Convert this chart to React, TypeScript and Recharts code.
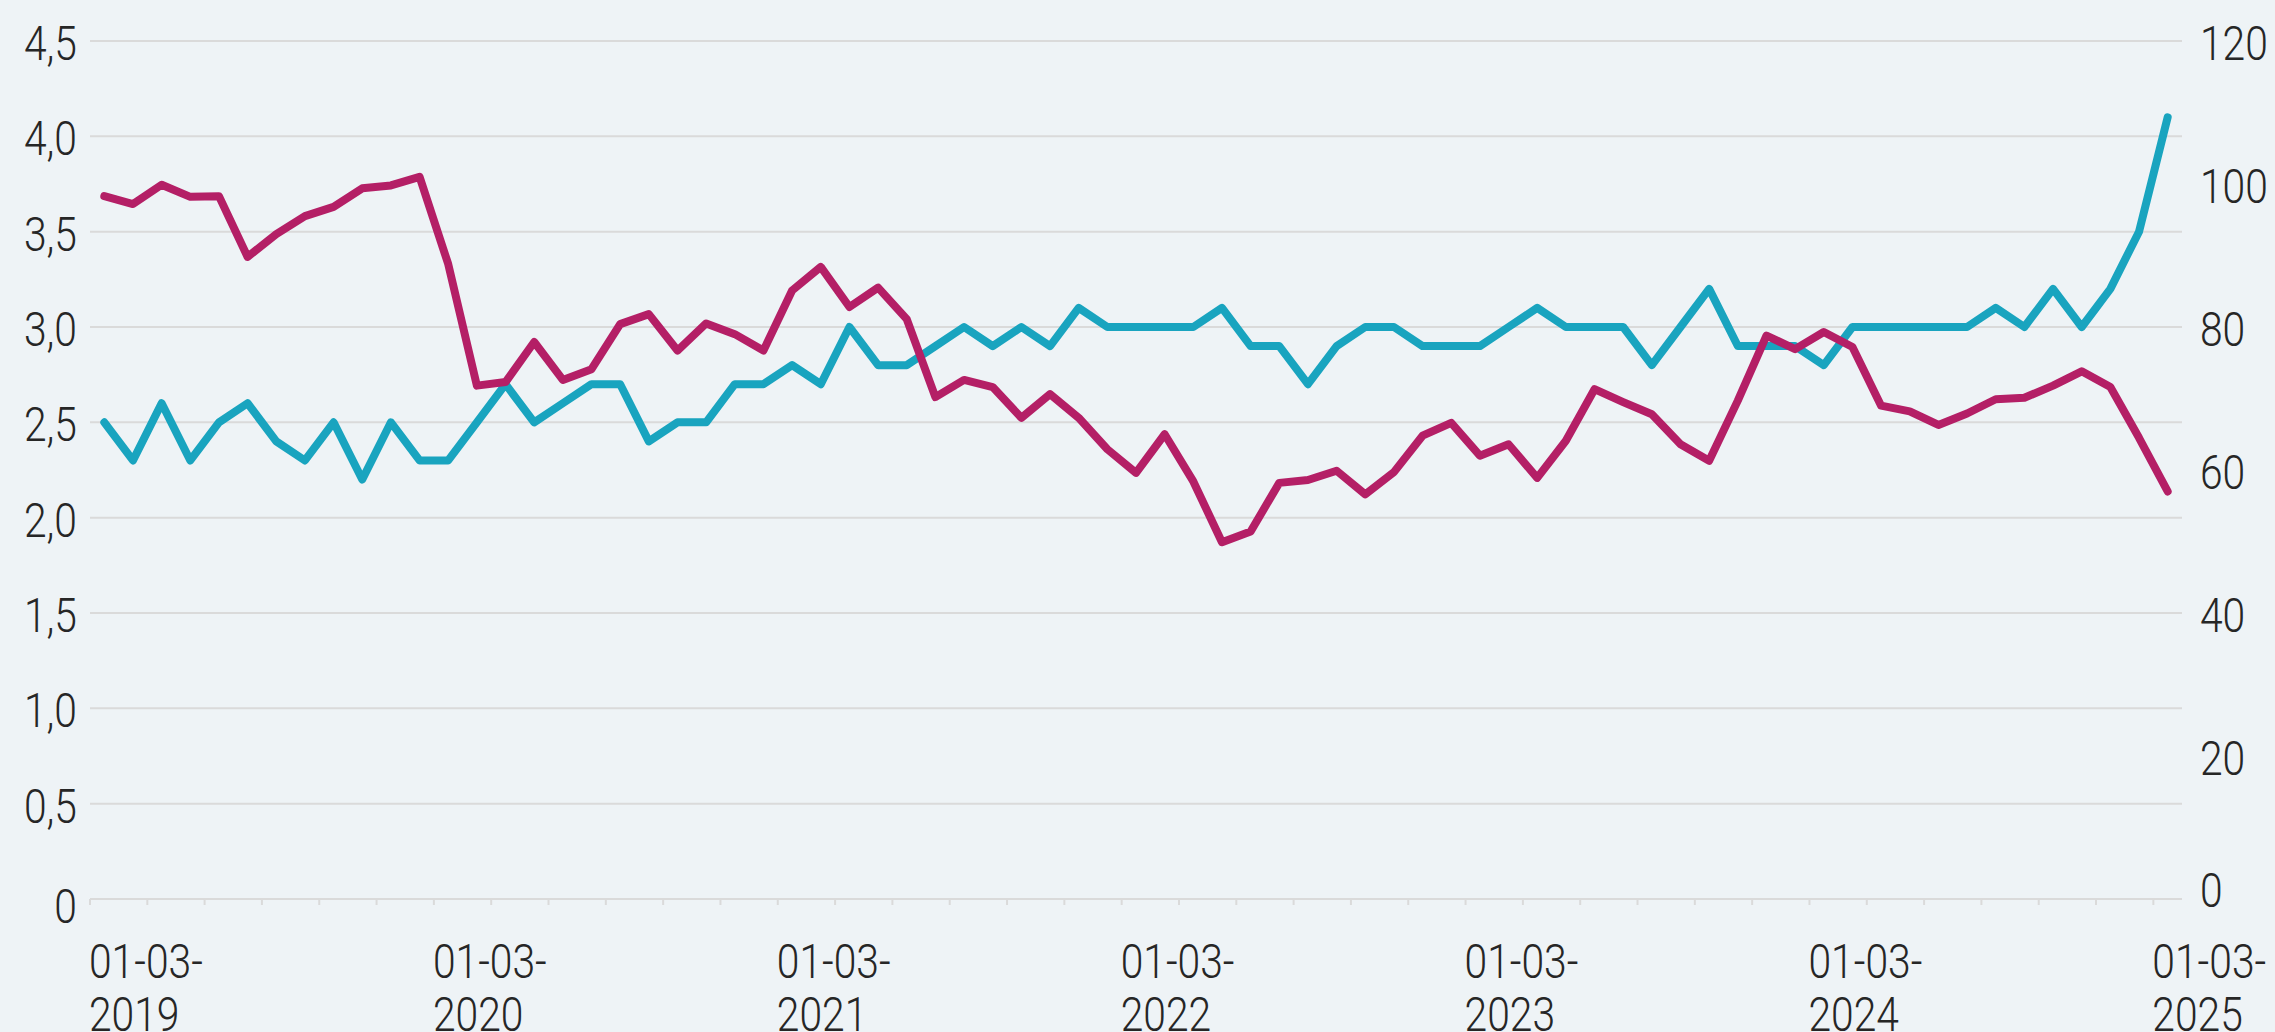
import React from 'react';
import { LineChart, Line, XAxis, YAxis, CartesianGrid } from 'recharts';

const months = [
  '2019-03', '2019-04', '2019-05', '2019-06', '2019-07', '2019-08', '2019-09', '2019-10', '2019-11', '2019-12',
  '2020-01', '2020-02', '2020-03', '2020-04', '2020-05', '2020-06', '2020-07', '2020-08', '2020-09', '2020-10', '2020-11', '2020-12',
  '2021-01', '2021-02', '2021-03', '2021-04', '2021-05', '2021-06', '2021-07', '2021-08', '2021-09', '2021-10', '2021-11', '2021-12',
  '2022-01', '2022-02', '2022-03', '2022-04', '2022-05', '2022-06', '2022-07', '2022-08', '2022-09', '2022-10', '2022-11', '2022-12',
  '2023-01', '2023-02', '2023-03', '2023-04', '2023-05', '2023-06', '2023-07', '2023-08', '2023-09', '2023-10', '2023-11', '2023-12',
  '2024-01', '2024-02', '2024-03', '2024-04', '2024-05', '2024-06', '2024-07', '2024-08', '2024-09', '2024-10', '2024-11', '2024-12',
  '2025-01', '2025-02', '2025-03',
];

// left axis series (0 – 4,5)
const tealValues = [
  2.5, 2.3, 2.6, 2.3, 2.5, 2.6, 2.4, 2.3, 2.5, 2.2,
  2.5, 2.3, 2.3, 2.5, 2.7, 2.5, 2.6, 2.7, 2.7, 2.4, 2.5, 2.5,
  2.7, 2.7, 2.8, 2.7, 3.0, 2.8, 2.8, 2.9, 3.0, 2.9, 3.0, 2.9,
  3.1, 3.0, 3.0, 3.0, 3.0, 3.1, 2.9, 2.9, 2.7, 2.9, 3.0, 3.0,
  2.9, 2.9, 2.9, 3.0, 3.1, 3.0, 3.0, 3.0, 2.8, 3.0, 3.2, 2.9,
  2.9, 2.9, 2.8, 3.0, 3.0, 3.0, 3.0, 3.0, 3.1, 3.0, 3.2, 3.0,
  3.2, 3.5, 4.1,
];

// right axis series (0 – 120)
const magentaValues = [
  98.3, 97.2, 99.9, 98.2, 98.3, 89.8, 93.0, 95.5, 96.8, 99.4,
  99.8, 101.0, 88.8, 71.8, 72.3, 77.9, 72.6, 74.1, 80.4, 81.8, 76.7, 80.5,
  79.0, 76.7, 85.1, 88.4, 82.8, 85.5, 81.1, 70.2, 72.6, 71.6, 67.3, 70.6,
  67.3, 62.9, 59.6, 65.0, 58.4, 49.9, 51.4, 58.2, 58.6, 59.9, 56.6, 59.7,
  64.8, 66.6, 62.0, 63.6, 58.9, 64.1, 71.3, 69.5, 67.8, 63.6, 61.3, 69.7,
  78.8, 76.9, 79.3, 77.2, 69.0, 68.2, 66.3, 67.9, 69.9, 70.1, 71.8, 73.8,
  71.6, 64.5, 57.0,
];

const xTicks = [0, 2, 4, 6, 8, 10, 12, 14, 16, 18, 20, 22, 24, 26, 28, 30, 32, 34, 36,
  38, 40, 42, 44, 46, 48, 50, 52, 54, 56, 58, 60, 62, 64, 66, 68, 70, 72];
const xTickLabels = ['01-03-2019', '01-03-2020', '01-03-2021', '01-03-2022', '01-03-2023', '01-03-2024', '01-03-2025'];
const leftTicks = [0, 0.5, 1, 1.5, 2, 2.5, 3, 3.5, 4, 4.5];
const rightTicks = [0, 20, 40, 60, 80, 100, 120];

const data = months.map((m, i) => ({ month: m, x: i + 0.5, teal: tealValues[i], magenta: magentaValues[i] }));

const FONT = "Roboto, 'Noto Sans', sans-serif";
const TEXT = '#262626';
const GRID = '#dadada';
const BG = '#eef3f6';
const TEAL = '#19a4bf';
const MAGENTA = '#b41f66';
const SX = 0.85;

const LeftTick = (props: any) => {
  const { x, y, payload } = props;
  const v = payload.value as number;
  const label = v === 0 ? '0' : v.toFixed(1).replace('.', ',');
  const dy = v === 0 ? 24 : 19;
  return (
    <text transform={`translate(${x},${y + dy}) scale(${SX},1)`} textAnchor="end" fontSize={48} fontWeight={300}
      fill={TEXT} fontFamily={FONT}>{label}</text>
  );
};

const RightTick = (props: any) => {
  const { x, y, payload } = props;
  const v = payload.value as number;
  const dy = v === 0 ? 8 : 19;
  return (
    <text transform={`translate(${x},${y + dy}) scale(${SX},1)`} textAnchor="start" fontSize={48} fontWeight={300}
      fill={TEXT} fontFamily={FONT}>{String(v)}</text>
  );
};

const XTick = (props: any) => {
  const { x, y, payload } = props;
  const v = payload.value as number;
  if (v % 12 !== 0) return <g />;
  const label = xTickLabels[v / 12];
  const first = label.slice(0, 6);
  const second = label.slice(6);
  return (
    <g transform={`translate(${x - 1},${y})`}>
      <text transform={`scale(${SX},1)`} textAnchor="start" fontSize={48} fontWeight={300} fill={TEXT} fontFamily={FONT}>
        <tspan x={0} y={73}>{first}</tspan>
        <tspan x={0} y={126}>{second}</tspan>
      </text>
    </g>
  );
};

export default function App() {
  return (
    <div style={{ width: 2275, height: 1032, background: BG, overflow: 'hidden' }}>
      <style>{'body{margin:0;overflow:hidden;}'}</style>
      <LineChart width={2275} height={1032} data={data} margin={{ top: 41, right: 0, bottom: 0, left: 0 }}>
        <CartesianGrid vertical={false} stroke={GRID} strokeWidth={2} yAxisId="left" />
        <XAxis
          dataKey="x"
          type="number"
          domain={[0, 73]}
          ticks={xTicks}
          interval={0}
          height={133}
          tickSize={6}
          tickMargin={0}
          axisLine={{ stroke: GRID, strokeWidth: 2 }}
          tickLine={{ stroke: GRID, strokeWidth: 2 }}
          tick={(p: any) => <XTick {...p} />}
          allowDataOverflow
        />
        <YAxis
          yAxisId="left"
          orientation="left"
          domain={[0, 4.5]}
          ticks={leftTicks}
          interval={0}
          width={90}
          tickSize={6}
          tickMargin={7}
          axisLine={false}
          tickLine={false}
          tick={(p: any) => <LeftTick {...p} />}
        />
        <YAxis
          yAxisId="right"
          orientation="right"
          domain={[0, 120]}
          ticks={rightTicks}
          interval={0}
          width={93}
          tickSize={6}
          tickMargin={12}
          axisLine={false}
          tickLine={false}
          tick={(p: any) => <RightTick {...p} />}
        />
        <Line yAxisId="left" type="linear" dataKey="teal" stroke={TEAL} strokeWidth={8} dot={false} activeDot={false}
          strokeLinecap="round" strokeLinejoin="round" isAnimationActive={false} />
        <Line yAxisId="right" type="linear" dataKey="magenta" stroke={MAGENTA} strokeWidth={8} dot={false} activeDot={false}
          strokeLinecap="round" strokeLinejoin="round" isAnimationActive={false} />
      </LineChart>
    </div>
  );
}
